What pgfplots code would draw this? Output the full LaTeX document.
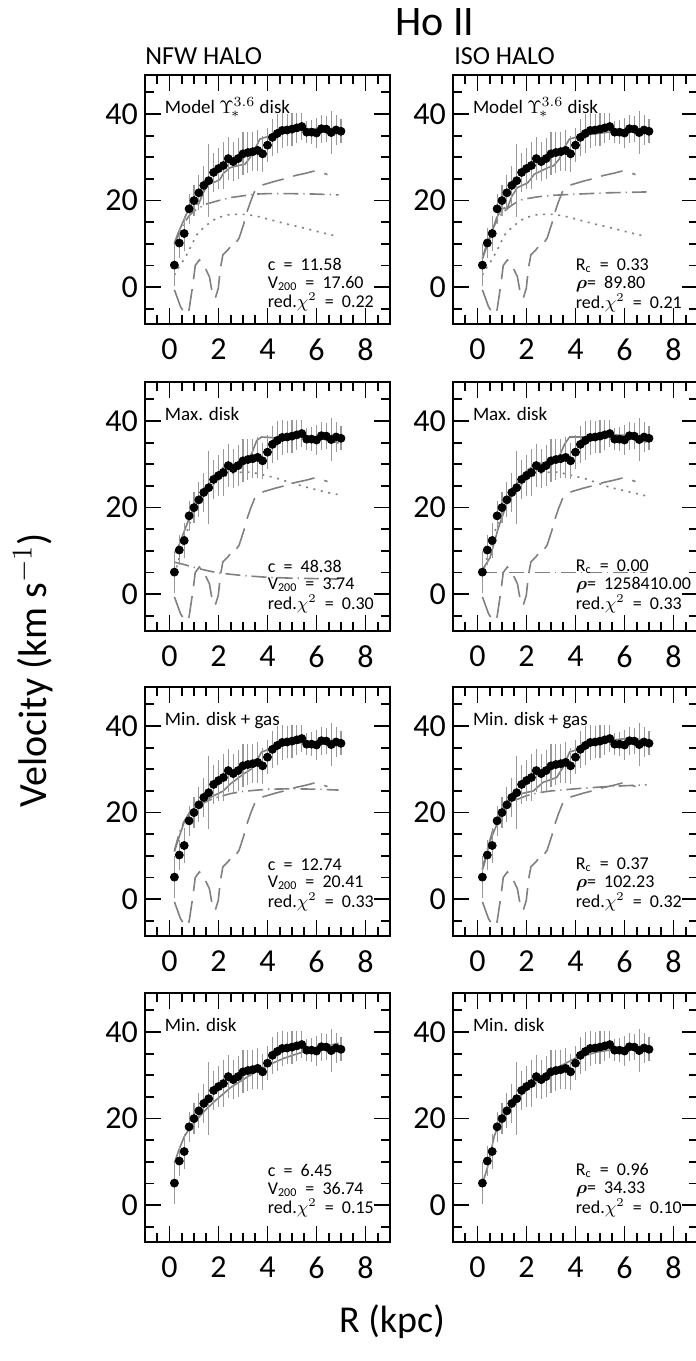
\documentclass[border=0pt]{standalone}
\usepackage{fontspec}
\setmainfont{Carlito}
\usepackage{amsmath}
\usepackage{pgfplots}
\pgfplotsset{compat=1.18}
\usepackage{pgfplotstable}
\definecolor{curvegray}{gray}{0.5}
\definecolor{errgray}{gray}{0.6}

\pgfplotstableread{
r v e
0.2 5.1 4.8
0.4 10.2 3.5
0.6 12.4 4.0
0.8 18.1 3.5
1.0 20.0 3.5
1.2 21.8 4.0
1.4 23.5 4.5
1.6 24.6 8.5
1.8 26.5 4.5
2.0 27.4 4.8
2.2 28.1 5.5
2.4 29.7 5.0
2.6 29.0 4.5
2.8 29.7 4.8
3.0 30.8 5.0
3.2 31.1 4.8
3.4 31.3 4.5
3.6 31.6 4.8
3.8 30.8 4.2
4.0 32.8 4.0
4.2 34.6 4.3
4.4 35.5 4.5
4.6 36.2 4.0
4.8 36.3 3.8
5.0 36.5 3.8
5.2 36.8 3.5
5.4 37.1 3.2
5.6 35.8 2.5
5.8 35.8 2.8
6.0 35.6 3.5
6.2 36.6 3.2
6.4 36.5 3.0
6.6 35.7 5.0
6.8 36.3 3.5
7.0 36.0 2.8
}\obs

\pgfplotsset{
  panel/.style={
    width=122.5pt, height=124.5pt, scale only axis,
    xmin=-1, xmax=9, ymin=-8.5, ymax=49,
    xtick={0,2,4,6,8}, ytick={0,20,40},
    minor xtick={-1,-0.5,...,9}, minor ytick={-5,0,...,45},
    xticklabel pos=lower, yticklabel pos=left,
    tick pos=both, tick align=inside,
    major tick length=8pt, minor tick length=4.5pt,
    axis line style={line width=1.4pt},
    every tick/.style={black, line width=0.9pt},
    tick label style={font=\fontsize{16}{16}\selectfont},
    /pgf/number format/assume math mode=true,
    xticklabel style={yshift=-4pt},
    clip=false,
  },
  tot/.style={curvegray, line width=0.8pt},
  halo/.style={curvegray, line width=0.8pt, dash pattern=on 7.5pt off 2.5pt on 0.6pt off 2.5pt},
  disk/.style={curvegray, line width=0.8pt, dash pattern=on 1pt off 2.8pt},
  gas/.style={curvegray, line width=0.8pt, dash pattern=on 11pt off 5pt},
}
\tikzset{
  lab/.style={anchor=base west, font=\fontsize{9.5}{11}\selectfont, inner sep=0pt},
  par/.style={anchor=west, font=\fontsize{9}{10}\selectfont, inner sep=0pt},
}

\newcommand{\obsplot}{%
  \addplot[only marks, mark=none, error bars/.cd, y dir=both, y explicit,
    error bar style={errgray, line width=0.55pt}, error mark=none]
    table[x=r, y=v, y error=e]{\obs};
  \addplot[only marks, mark=*, mark size=1.45pt, black] table[x=r, y=v]{\obs};
}
\newcommand{\gasplot}{%
  \addplot[gas] coordinates {(0.2,-0.6)(0.45,-4.5)(0.65,-6.3)(0.8,-5.2)(0.97,1.3)(1.05,5.0)(1.22,6.3)(1.41,5.0)(1.63,2.4)(1.77,-2.2)(1.87,-2.5)(1.99,-0.3)(2.08,4.4)(2.18,7.5)(2.38,8.6)(2.52,9.6)(2.6,9.4)(2.84,11.3)(3.04,14.8)(3.17,17.5)(3.31,19.8)(3.48,22.2)(3.67,23.3)(3.85,23.7)(4.33,24.5)(4.74,25.1)(5.14,25.8)(5.55,26.3)(5.89,26.8)(6.16,26.6)(6.45,26.0)};
}
\newcommand{\sps}{\hspace{0.45em}}
% three parameter lines, at y = #1, #1-4.3, #1-8.6
\newcommand{\params}[4]{%
  \node[par] at (4,#1) {#2};
  \pgfmathsetmacro{\yb}{#1-4.3}\pgfmathsetmacro{\yc}{#1-8.6}%
  \node[par] at (4,\yb) {#3};
  \node[par] at (4,\yc) {#4};
}

\begin{document}
\begin{tikzpicture}
\useasboundingbox (0,0) rectangle (348pt,-680.5pt);

\node[font=\fontsize{21}{21}\selectfont] at (217.5pt,-11pt) {Ho II};
\node[anchor=west, inner sep=0pt, font=\fontsize{13}{13}\selectfont] at (72.5pt,-28pt) {NFW HALO};
\node[anchor=west, inner sep=0pt, font=\fontsize{13}{13}\selectfont] at (227pt,-28pt) {ISO HALO};
\node[rotate=90, font=\fontsize{20}{20}\selectfont] at (16.5pt,-335pt) {Velocity (km s$^{-1}$)};
\node[font=\fontsize{19}{19}\selectfont] at (196pt,-661pt) {R (kpc)};

% ---------- Row 1 ----------
\begin{axis}[panel, at={(72.5pt,-37.5pt)}, anchor=north west]
\addplot[disk] coordinates {(0.2,2.8)(0.4,4.8)(0.63,6.7)(0.84,9.0)(1.11,12.1)(1.45,14.1)(1.93,16.0)(2.47,16.8)(3.15,16.8)(3.56,16.4)(4.1,15.6)(4.78,14.6)(5.46,13.7)(6.14,12.7)(6.89,11.7)};
\gasplot
\addplot[halo] coordinates {(0.2,10.0)(0.4,12.4)(0.6,14.8)(0.8,16.5)(1.0,17.6)(1.2,18.3)(1.5,19.2)(2.0,20.0)(2.5,20.7)(3.0,21.1)(3.5,21.5)(4.0,21.6)(5.0,21.6)(6.0,21.5)(6.9,21.3)};
\addplot[tot] coordinates {(0.2,10.2)(0.36,12.6)(0.57,15.3)(0.77,17.9)(0.97,19.9)(1.1,19.2)(1.18,19.1)(1.38,21.8)(1.58,23.9)(1.86,24.3)(2.06,24.9)(2.2,26.3)(2.47,27.6)(2.74,28.0)(3.08,28.4)(3.28,29.9)(3.49,31.9)(3.69,34.2)(3.9,34.6)(4.31,35.2)(5.26,36.2)(5.94,36.6)(6.62,35.9)(6.89,35.6)};
\obsplot
\node[lab] at (-0.2,40) {Model $\Upsilon^{3.6}_{\!*}$ disk};
\params{5.2}{c\sps=\sps11.58}{V\textsubscript{200}\sps=\sps17.60}{red.$\chi^2$\sps=\sps0.22}
\end{axis}

\begin{axis}[panel, at={(226.5pt,-37.5pt)}, anchor=north west]
\addplot[disk] coordinates {(0.2,2.8)(0.4,4.8)(0.63,6.7)(0.84,9.0)(1.11,12.1)(1.45,14.1)(1.93,16.0)(2.47,16.8)(3.15,16.8)(3.56,16.4)(4.1,15.6)(4.78,14.6)(5.46,13.7)(6.14,12.7)(6.89,11.7)};
\gasplot
\addplot[halo] coordinates {(0.2,6.8)(0.4,10.2)(0.6,13.3)(0.8,15.4)(1.0,17.0)(1.2,18.1)(1.5,19.3)(1.85,20.3)(2.5,20.9)(3.0,21.2)(3.71,21.4)(4.5,21.6)(5.34,21.8)(6.2,21.9)(6.9,22.0)};
\addplot[tot] coordinates {(0.2,6.5)(0.26,7.5)(0.51,11.4)(0.78,16.0)(0.98,18.0)(1.1,18.3)(1.2,18.0)(1.4,21.0)(1.63,23.0)(1.9,23.7)(2.05,24.1)(2.32,26.1)(2.87,27.6)(3.1,28.0)(3.34,29.6)(3.55,32.3)(3.75,34.2)(4.24,35.0)(5.34,35.8)(6.02,36.2)(6.9,35.8)};
\obsplot
\node[lab] at (-0.2,40) {Model $\Upsilon^{3.6}_{\!*}$ disk};
\params{5.0}{R\textsubscript{c}\sps=\sps0.33}{$\boldsymbol{\rho}$=\sps89.80}{red.$\chi^2$\sps=\sps0.21}
\end{axis}

% ---------- Row 2 ----------
\begin{axis}[panel, at={(72.5pt,-191pt)}, anchor=north west]
\addplot[disk] coordinates {(0.2,4.5)(0.4,8.5)(0.6,12.5)(0.8,16.0)(1.0,18.8)(1.2,21.0)(1.4,22.8)(1.6,24.2)(1.8,25.4)(2.0,26.4)(2.2,27.1)(2.4,27.6)(2.6,27.9)(2.8,28.1)(3.0,28.2)(3.2,28.2)(3.4,28.1)(3.63,27.8)(4.24,27.0)(4.92,25.8)(5.6,24.7)(6.42,23.5)(6.9,23.0)};
\gasplot
\addplot[halo] coordinates {(0.2,7.4)(0.5,7.0)(1.0,6.2)(1.5,5.5)(2.0,4.9)(3.0,4.3)(4.0,3.9)(5.0,3.7)(6.0,3.6)(6.9,3.5)};
\addplot[tot] coordinates {(0.2,9.5)(0.4,11.5)(0.6,14.5)(0.8,17.5)(1.0,20.0)(1.4,24.0)(1.8,26.6)(2.2,29.3)(2.6,30.1)(3.0,30.5)(3.35,32.4)(3.56,35.5)(3.76,36.3)(4.4,36.1)(5.2,36.7)(6.0,36.3)(6.9,34.9)};
\obsplot
\node[lab] at (-0.2,40) {Max. disk};
\params{6.4}{c\sps=\sps48.38}{V\textsubscript{200}\sps=\sps3.74}{red.$\chi^2$\sps=\sps0.30}
\end{axis}

\begin{axis}[panel, at={(226.5pt,-191pt)}, anchor=north west]
\addplot[disk] coordinates {(0.2,4.5)(0.4,8.5)(0.6,12.5)(0.8,16.0)(1.0,18.8)(1.2,21.0)(1.4,22.8)(1.6,24.2)(1.8,25.4)(2.0,26.4)(2.2,27.1)(2.4,27.6)(2.6,27.9)(2.8,28.1)(3.0,28.2)(3.2,28.2)(3.4,28.1)(3.57,27.8)(4.44,26.6)(5.39,24.7)(6.89,22.7)};
\gasplot
\addplot[halo] coordinates {(0.2,5.0)(6.9,5.0)};
\addplot[tot] coordinates {(0.2,5.5)(0.24,6.0)(0.51,8.4)(0.85,15.3)(1.19,20.8)(1.6,25.4)(2.0,28.5)(2.4,30.1)(2.95,30.5)(3.35,32.0)(3.56,34.7)(3.76,36.3)(4.44,36.3)(5.4,36.8)(6.08,36.7)(6.9,35.1)};
\obsplot
\node[lab] at (-0.2,40) {Max. disk};
\params{6.4}{R\textsubscript{c}\sps=\sps0.00}{$\boldsymbol{\rho}$=\sps1258410.00}{red.$\chi^2$\sps=\sps0.33}
\end{axis}

% ---------- Row 3 ----------
\begin{axis}[panel, at={(72.5pt,-343.5pt)}, anchor=north west]
\gasplot
\addplot[halo] coordinates {(0.2,11.2)(0.4,15.3)(0.6,18.0)(0.8,19.8)(1.0,20.9)(1.3,22.0)(1.8,23.3)(2.5,24.4)(3.0,24.9)(4.0,25.4)(5.0,25.5)(6.0,25.4)(6.9,25.2)};
\addplot[tot] coordinates {(0.2,11.0)(0.43,15.0)(0.6,17.8)(0.86,20.4)(1.0,21.0)(1.27,22.3)(1.81,23.9)(2.2,25.0)(2.48,26.6)(3.02,28.9)(3.35,30.1)(3.56,32.0)(3.76,34.0)(4.1,34.7)(4.92,35.9)(6.0,36.4)(6.9,36.1)};
\obsplot
\node[lab] at (-0.2,40) {Min. disk + gas};
\params{8.0}{c\sps=\sps12.74}{V\textsubscript{200}\sps=\sps20.41}{red.$\chi^2$\sps=\sps0.33}
\end{axis}

\begin{axis}[panel, at={(226.5pt,-343.5pt)}, anchor=north west]
\gasplot
\addplot[halo] coordinates {(0.2,7.0)(0.4,11.5)(0.6,15.5)(0.8,18.3)(1.0,20.2)(1.2,21.5)(1.6,23.0)(2.0,23.9)(2.5,24.6)(3.0,25.0)(4.0,25.5)(5.0,25.9)(6.0,26.2)(6.9,26.4)};
\addplot[tot] coordinates {(0.2,6.8)(0.27,8.0)(0.51,13.4)(0.85,18.1)(1.19,22.7)(1.73,24.3)(2.28,25.0)(2.68,27.0)(3.23,28.1)(3.5,30.5)(3.76,34.0)(4.17,34.7)(5.4,36.7)(6.08,37.1)(6.9,36.8)};
\obsplot
\node[lab] at (-0.2,40) {Min. disk + gas};
\params{8.0}{R\textsubscript{c}\sps=\sps0.37}{$\boldsymbol{\rho}$=\sps102.23}{red.$\chi^2$\sps=\sps0.32}
\end{axis}

% ---------- Row 4 ----------
\begin{axis}[panel, at={(72.5pt,-496.5pt)}, anchor=north west]
\addplot[tot] coordinates {(0.2,9.8)(0.4,13.0)(0.6,15.8)(0.8,17.6)(1.0,19.0)(1.4,21.6)(1.8,23.8)(2.5,27.2)(3.2,29.7)(4.0,32.3)(4.7,34.0)(5.4,35.3)(6.1,36.3)(6.9,37.4)};
\obsplot
\node[lab] at (-0.2,40) {Min. disk};
\params{8.0}{c\sps=\sps6.45}{V\textsubscript{200}\sps=\sps36.74}{red.$\chi^2$\sps=\sps0.15}
\end{axis}

\begin{axis}[panel, at={(226.5pt,-496.5pt)}, anchor=north west]
\addplot[tot] coordinates {(0.2,4.9)(0.41,8.8)(0.68,15.9)(0.95,19.8)(1.49,23.8)(2.21,27.7)(3.11,31.3)(4.01,34.0)(4.91,35.4)(5.81,36.2)(6.89,36.8)};
\obsplot
\node[lab] at (-0.2,40) {Min. disk};
\params{8.0}{R\textsubscript{c}\sps=\sps0.96}{$\boldsymbol{\rho}$=\sps34.33}{red.$\chi^2$\sps=\sps0.10}
\end{axis}
\end{tikzpicture}
\end{document}
